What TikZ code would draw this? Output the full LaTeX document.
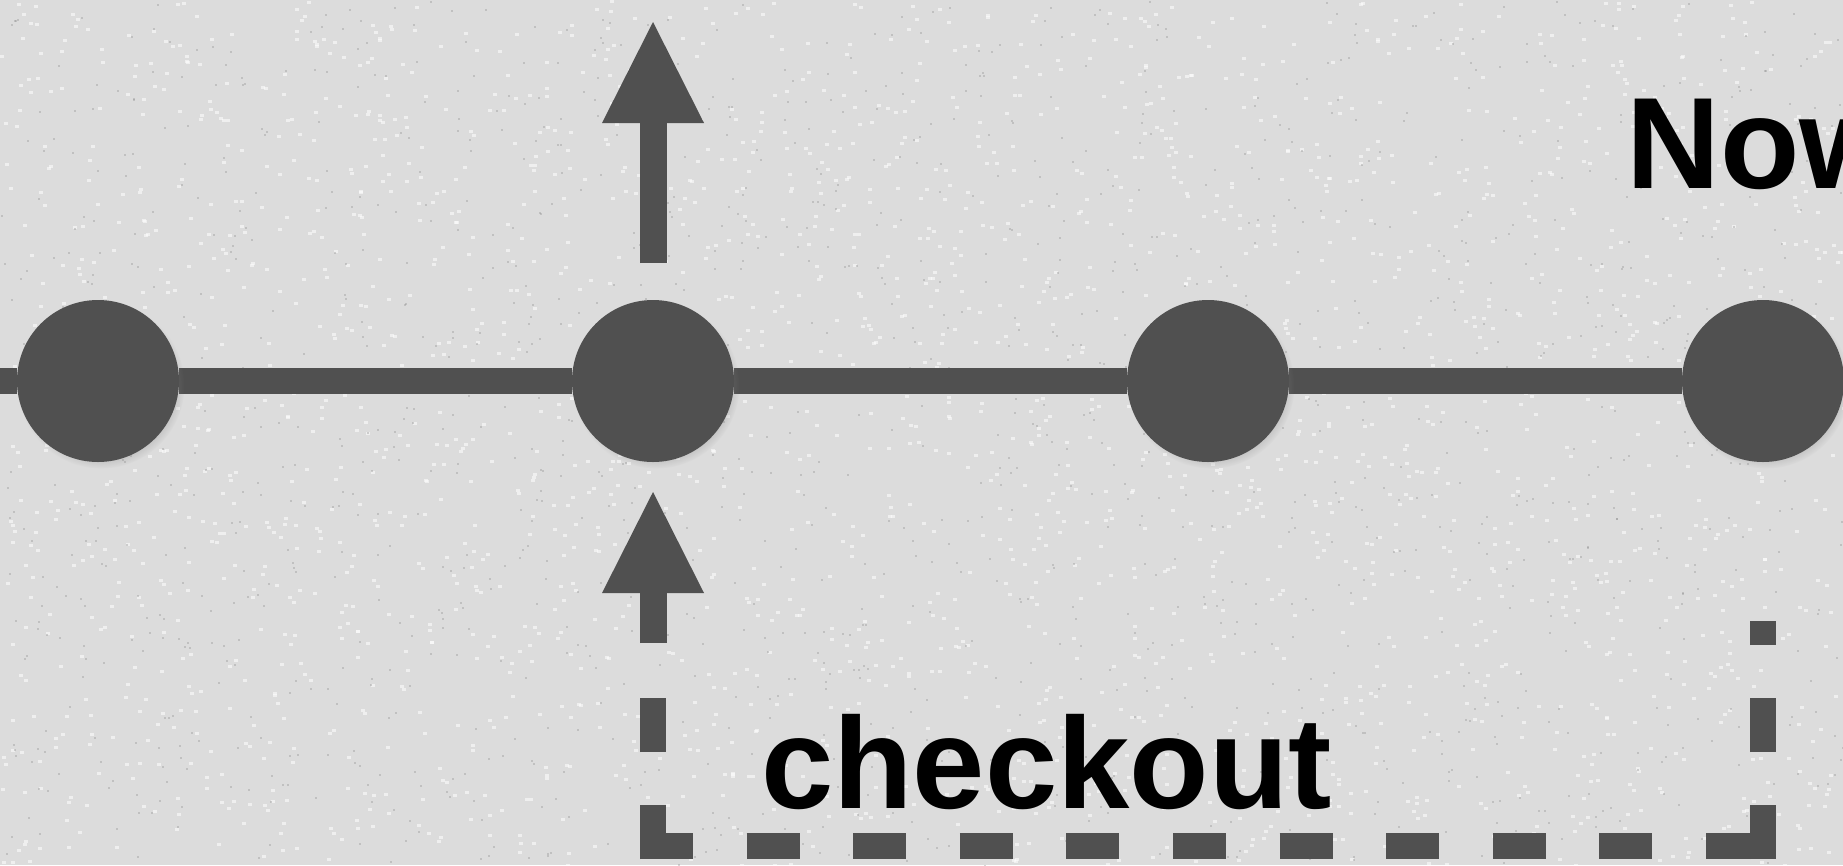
\documentclass[tikz,border=0pt]{standalone}
\usepackage{fontspec}
\setmainfont{Liberation Sans}
\usetikzlibrary{arrows.meta,shadows,fadings}
\definecolor{bgconc}{RGB}{220,220,220}
\definecolor{ink}{RGB}{80,80,80}
\pgfdeclarelayer{bglayer}
\pgfdeclarelayer{linelayer}
\pgfsetlayers{bglayer,linelayer,main}
\tikzset{
  dot/.style={circle, fill=ink, draw=none, minimum size=162pt, inner sep=0pt,
    circular drop shadow={shadow xshift=3pt, shadow yshift=-4pt, opacity=0.35, shadow scale=1.03}},
  mainline/.style={draw=ink, line width=26pt},
  uparrow/.style={draw=ink, line width=27pt, -{Triangle[width=102pt,length=101pt,line width=0pt]}},
  dashline/.style={draw=ink, line width=26pt, line cap=butt, dash pattern=on 54pt off 53pt},
  hdashline/.style={draw=ink, line width=26pt, line cap=butt, dash pattern=on 53pt off 53.6pt},
  bigtext/.style={inner sep=0pt, anchor=base west, font=\bfseries\fontsize{130pt}{130pt}\selectfont, text=black},
  speckL/.style={fill=white, opacity=0.55},
  speckD/.style={fill=black!45, opacity=0.35},
}
\begin{document}
\begin{tikzpicture}[x=1pt,y=-1pt]
\useasboundingbox (0,0) rectangle (1843,865);
\clip (0,0) rectangle (1843,865);
\begin{pgfonlayer}{bglayer}
  \fill[bgconc] (0,0) rectangle (1843,865);
  \pgfmathsetseed{11}
  \foreach \i in {1,...,2500}{
    \pgfmathsetmacro\xx{rnd*1843}
    \pgfmathsetmacro\yy{rnd*865}
    \fill[speckL] (\xx,\yy) rectangle ++(4,3);
  }
  \foreach \i in {1,...,1500}{
    \pgfmathsetmacro\xx{rnd*1843}
    \pgfmathsetmacro\yy{rnd*865}
    \fill[speckD] (\xx,\yy) rectangle ++(2,2);
  }
\end{pgfonlayer}
% timeline commits
\node[dot] (c1) at (98,381) {};
\node[dot] (c2) at (653,381) {};
\node[dot] (c3) at (1208,381) {};
\node[dot] (c4) at (1763,381) {};
\coordinate (L) at (0,381);
\coordinate (R) at (1843,381);
\begin{pgfonlayer}{linelayer}
  \draw[mainline] (L) -- (c1) -- (c2) -- (c3) -- (c4) -- (R);
\end{pgfonlayer}
% arrows
\coordinate (upS) at (653,263);
\coordinate (upT) at (653,22);
\draw[uparrow] (upS) -- (upT);
\coordinate (loS) at (653,643);
\coordinate (loT) at (653,492);
\draw[uparrow] (loS) -- (loT);
% dashed frame
\coordinate (dL1) at (653,859);
\coordinate (dL2) at (653,697);
\coordinate (dB1) at (640,846);
\coordinate (dB2) at (1776,846);
\coordinate (dR1) at (1763,859);
\coordinate (dR2) at (1763,621);
\draw[dashline] (dL1) -- (dL2);
\draw[hdashline] (dB1) -- (dB2);
\draw[dashline] (dR1) -- (dR2);
% labels
\node[bigtext] (now) at (1626,188) {Now};
\node[bigtext] (co) at (761,808) {checkout};
\end{tikzpicture}
\end{document}
